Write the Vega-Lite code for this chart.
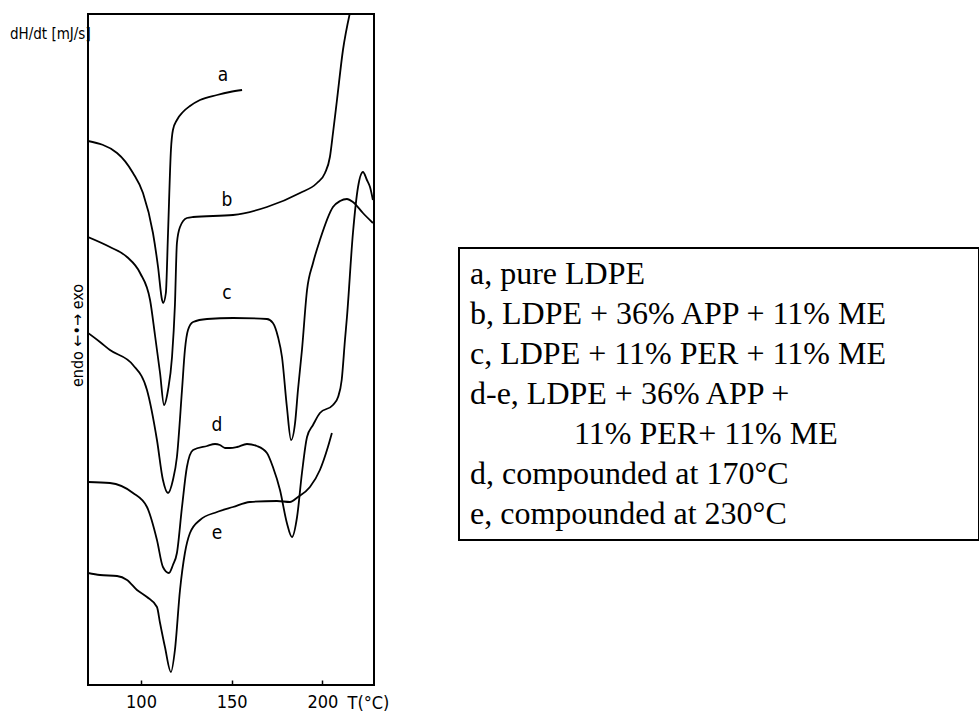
{
  "$schema": "https://vega.github.io/schema/vega-lite/v6.json",
  "autosize": {"type": "none"},
  "padding": {"left": 88, "top": 14, "right": 605, "bottom": 35},
  "width": 286,
  "height": 671,
  "background": "white",
  "title": {
    "text": "dH/dt [mJ/s]",
    "anchor": "start",
    "frame": "group",
    "dx": -78,
    "dy": 32,
    "fontSize": 15,
    "fontWeight": "normal",
    "font": "Liberation Sans Narrow, DejaVu Sans Condensed, sans-serif",
    "color": "black"
  },
  "datasets": {
    "curves": [
      {"curve": "a", "T": 70.8, "v": 544}, {"curve": "a", "T": 86.8, "v": 532}, {"curve": "a", "T": 95.6, "v": 512},
      {"curve": "a", "T": 101.1, "v": 492}, {"curve": "a", "T": 106.6, "v": 452}, {"curve": "a", "T": 109.4, "v": 418},
      {"curve": "a", "T": 111.6, "v": 385}, {"curve": "a", "T": 112.2, "v": 382}, {"curve": "a", "T": 113.7, "v": 392},
      {"curve": "a", "T": 114.9, "v": 452}, {"curve": "a", "T": 116.5, "v": 535}, {"curve": "a", "T": 117.6, "v": 555},
      {"curve": "a", "T": 119.8, "v": 565}, {"curve": "a", "T": 123.1, "v": 573}, {"curve": "a", "T": 127.0, "v": 579},
      {"curve": "a", "T": 132.5, "v": 585}, {"curve": "a", "T": 141.9, "v": 590}, {"curve": "a", "T": 149.0, "v": 593},
      {"curve": "a", "T": 155.7, "v": 595},

      {"curve": "b", "T": 70.8, "v": 448}, {"curve": "b", "T": 82.9, "v": 438}, {"curve": "b", "T": 92.3, "v": 428},
      {"curve": "b", "T": 99.5, "v": 412}, {"curve": "b", "T": 105.0, "v": 385}, {"curve": "b", "T": 107.7, "v": 350},
      {"curve": "b", "T": 110.5, "v": 312}, {"curve": "b", "T": 112.7, "v": 280}, {"curve": "b", "T": 114.9, "v": 295},
      {"curve": "b", "T": 117.1, "v": 328}, {"curve": "b", "T": 118.7, "v": 380}, {"curve": "b", "T": 119.8, "v": 442},
      {"curve": "b", "T": 121.5, "v": 458}, {"curve": "b", "T": 125.3, "v": 467}, {"curve": "b", "T": 128.7, "v": 468},
      {"curve": "b", "T": 150.7, "v": 470}, {"curve": "b", "T": 169.4, "v": 478}, {"curve": "b", "T": 187.6, "v": 492},
      {"curve": "b", "T": 197.0, "v": 502}, {"curve": "b", "T": 201.4, "v": 512}, {"curve": "b", "T": 204.1, "v": 528},
      {"curve": "b", "T": 205.8, "v": 552}, {"curve": "b", "T": 208.0, "v": 585}, {"curve": "b", "T": 211.3, "v": 635},
      {"curve": "b", "T": 215.0, "v": 671},

      {"curve": "c", "T": 70.8, "v": 352}, {"curve": "c", "T": 77.4, "v": 343}, {"curve": "c", "T": 82.9, "v": 335},
      {"curve": "c", "T": 95.6, "v": 320}, {"curve": "c", "T": 103.3, "v": 295}, {"curve": "c", "T": 108.8, "v": 245},
      {"curve": "c", "T": 112.1, "v": 205}, {"curve": "c", "T": 114.9, "v": 192}, {"curve": "c", "T": 117.6, "v": 205},
      {"curve": "c", "T": 119.8, "v": 228}, {"curve": "c", "T": 122.6, "v": 295}, {"curve": "c", "T": 124.2, "v": 335},
      {"curve": "c", "T": 125.9, "v": 355}, {"curve": "c", "T": 128.7, "v": 363}, {"curve": "c", "T": 136.4, "v": 366},
      {"curve": "c", "T": 150.7, "v": 367}, {"curve": "c", "T": 169.4, "v": 366}, {"curve": "c", "T": 172.7, "v": 362},
      {"curve": "c", "T": 175.5, "v": 348}, {"curve": "c", "T": 177.7, "v": 328}, {"curve": "c", "T": 180.4, "v": 278},
      {"curve": "c", "T": 182.7, "v": 245}, {"curve": "c", "T": 184.9, "v": 262}, {"curve": "c", "T": 186.5, "v": 295},
      {"curve": "c", "T": 188.7, "v": 335}, {"curve": "c", "T": 191.5, "v": 395}, {"curve": "c", "T": 194.8, "v": 422},
      {"curve": "c", "T": 198.6, "v": 445}, {"curve": "c", "T": 205.8, "v": 478}, {"curve": "c", "T": 209.7, "v": 484},
      {"curve": "c", "T": 213.5, "v": 486}, {"curve": "c", "T": 216.8, "v": 483}, {"curve": "c", "T": 222.3, "v": 472},
      {"curve": "c", "T": 227.8, "v": 462},

      {"curve": "d", "T": 70.8, "v": 203}, {"curve": "d", "T": 82.9, "v": 202}, {"curve": "d", "T": 95.6, "v": 192},
      {"curve": "d", "T": 103.3, "v": 178}, {"curve": "d", "T": 108.8, "v": 145}, {"curve": "d", "T": 112.1, "v": 118},
      {"curve": "d", "T": 115.4, "v": 112}, {"curve": "d", "T": 117.6, "v": 120}, {"curve": "d", "T": 119.8, "v": 132},
      {"curve": "d", "T": 122.6, "v": 178}, {"curve": "d", "T": 125.3, "v": 218}, {"curve": "d", "T": 128.7, "v": 235},
      {"curve": "d", "T": 136.4, "v": 239}, {"curve": "d", "T": 140.8, "v": 241}, {"curve": "d", "T": 143.5, "v": 240},
      {"curve": "d", "T": 146.3, "v": 237}, {"curve": "d", "T": 149.0, "v": 237}, {"curve": "d", "T": 152.9, "v": 238},
      {"curve": "d", "T": 158.4, "v": 241}, {"curve": "d", "T": 163.9, "v": 239}, {"curve": "d", "T": 169.4, "v": 232},
      {"curve": "d", "T": 172.7, "v": 218}, {"curve": "d", "T": 176.6, "v": 195}, {"curve": "d", "T": 180.4, "v": 162},
      {"curve": "d", "T": 183.2, "v": 148}, {"curve": "d", "T": 186.0, "v": 168}, {"curve": "d", "T": 188.7, "v": 212},
      {"curve": "d", "T": 191.5, "v": 248}, {"curve": "d", "T": 194.8, "v": 260}, {"curve": "d", "T": 198.6, "v": 272},
      {"curve": "d", "T": 205.8, "v": 280}, {"curve": "d", "T": 208.6, "v": 288}, {"curve": "d", "T": 210.6, "v": 305},
      {"curve": "d", "T": 212.4, "v": 345}, {"curve": "d", "T": 213.5, "v": 368}, {"curve": "d", "T": 216.8, "v": 452},
      {"curve": "d", "T": 219.6, "v": 498}, {"curve": "d", "T": 222.3, "v": 513}, {"curve": "d", "T": 224.5, "v": 505},
      {"curve": "d", "T": 226.2, "v": 498}, {"curve": "d", "T": 227.8, "v": 485},

      {"curve": "e", "T": 70.8, "v": 112}, {"curve": "e", "T": 77.4, "v": 110}, {"curve": "e", "T": 86.8, "v": 109},
      {"curve": "e", "T": 92.3, "v": 105}, {"curve": "e", "T": 97.8, "v": 95}, {"curve": "e", "T": 103.3, "v": 88},
      {"curve": "e", "T": 108.8, "v": 78}, {"curve": "e", "T": 110.5, "v": 62}, {"curve": "e", "T": 113.2, "v": 38},
      {"curve": "e", "T": 116.5, "v": 13}, {"curve": "e", "T": 118.7, "v": 35}, {"curve": "e", "T": 121.5, "v": 95},
      {"curve": "e", "T": 124.2, "v": 132}, {"curve": "e", "T": 127.0, "v": 152}, {"curve": "e", "T": 132.5, "v": 165},
      {"curve": "e", "T": 141.9, "v": 173}, {"curve": "e", "T": 150.7, "v": 178}, {"curve": "e", "T": 160.0, "v": 183},
      {"curve": "e", "T": 174.9, "v": 184}, {"curve": "e", "T": 182.1, "v": 183}, {"curve": "e", "T": 186.5, "v": 188},
      {"curve": "e", "T": 193.1, "v": 198}, {"curve": "e", "T": 198.6, "v": 215}, {"curve": "e", "T": 203.0, "v": 238},
      {"curve": "e", "T": 205.2, "v": 252}
    ],
    "labels": [
      {"curve": "a", "T": 145.2, "v": 610},
      {"curve": "b", "T": 147.4, "v": 485},
      {"curve": "c", "T": 147.4, "v": 392},
      {"curve": "d", "T": 141.9, "v": 260},
      {"curve": "e", "T": 141.9, "v": 152}
    ]
  },
  "layer": [
    {
      "data": {"name": "curves"},
      "mark": {"type": "line", "interpolate": "monotone", "strokeWidth": 1.8, "clip": true},
      "encoding": {
        "x": {
          "field": "T", "type": "quantitative",
          "scale": {"domain": [70.8, 228.4], "nice": false, "zero": false},
          "axis": {
            "values": [100, 150, 200],
            "title": "T(°C)",
            "titleX": 259, "titleY": 18, "titleAlign": "left", "titleBaseline": "middle", "titleAngle": 0,
            "titleFontSize": 18, "titleFontWeight": "normal",
            "titleFont": "Liberation Sans Narrow, DejaVu Sans Condensed, sans-serif",
            "labelFont": "Liberation Sans Narrow, DejaVu Sans Condensed, sans-serif",
            "labelFontSize": 18, "labelColor": "black",
            "tickSize": -5, "tickColor": "black", "tickWidth": 1.5,
            "labelPadding": 13,
            "domain": false, "grid": false
          }
        },
        "y": {
          "field": "v", "type": "quantitative",
          "scale": {"domain": [0, 671], "nice": false, "zero": false},
          "axis": {
            "title": "endo ←•→ exo",
            "titleX": -11, "titleY": 321, "titleAngle": -90, "titleAlign": "center", "titleBaseline": "middle",
            "titleFontSize": 16, "titleFontWeight": "normal",
            "titleFont": "Liberation Sans Narrow, DejaVu Sans Condensed, sans-serif",
            "labels": false, "ticks": false, "domain": false, "grid": false
          }
        },
        "color": {
          "field": "curve", "type": "nominal",
          "scale": {
            "domain": ["a", "b", "c", "de1", "de2", "d", "e"],
            "range": ["black", "black", "black", "black", "black", "black", "black"]
          },
          "legend": {
            "orient": "none",
            "legendX": 371,
            "legendY": 234,
            "title": null,
            "padding": 10,
            "symbolSize": 0,
            "symbolOpacity": 0,
            "symbolStrokeWidth": 0,
            "labelOffset": -31,
            "labelLimit": 1000,
            "rowPadding": 8,
            "labelFont": "Liberation Serif, Times New Roman, serif",
            "labelFontSize": 32,
            "labelColor": "black",
            "strokeColor": "black",
            "labelExpr": "datum.value === 'a' ? 'a, pure LDPE' : datum.value === 'b' ? 'b, LDPE + 36% APP + 11% ME\u00a0\u00a0\u00a0\u00a0\u00a0\u00a0\u00a0\u00a0\u00a0\u00a0\u200b' : datum.value === 'c' ? 'c, LDPE + 11% PER + 11% ME' : datum.value === 'de1' ? 'd-e, LDPE + 36% APP +' : datum.value === 'de2' ? '\u200b\u00a0\u00a0\u00a0\u00a0\u00a0\u00a0\u00a0\u00a0\u00a0\u00a0\u00a0\u00a0\u00a011% PER+ 11% ME' : datum.value === 'd' ? 'd, compounded at 170°C' : 'e, compounded at 230°C'"
          }
        }
      }
    },
    {
      "data": {"name": "labels"},
      "mark": {
        "type": "text", "fontSize": 19, "color": "black",
        "font": "Liberation Sans Narrow, DejaVu Sans Condensed, sans-serif",
        "align": "center", "baseline": "middle"
      },
      "encoding": {
        "x": {"field": "T", "type": "quantitative"},
        "y": {"field": "v", "type": "quantitative"},
        "text": {"field": "curve"}
      }
    }
  ],
  "config": {
    "view": {"stroke": "black", "strokeWidth": 2},
    "legend": {"strokeWidth": 2}
  }
}
